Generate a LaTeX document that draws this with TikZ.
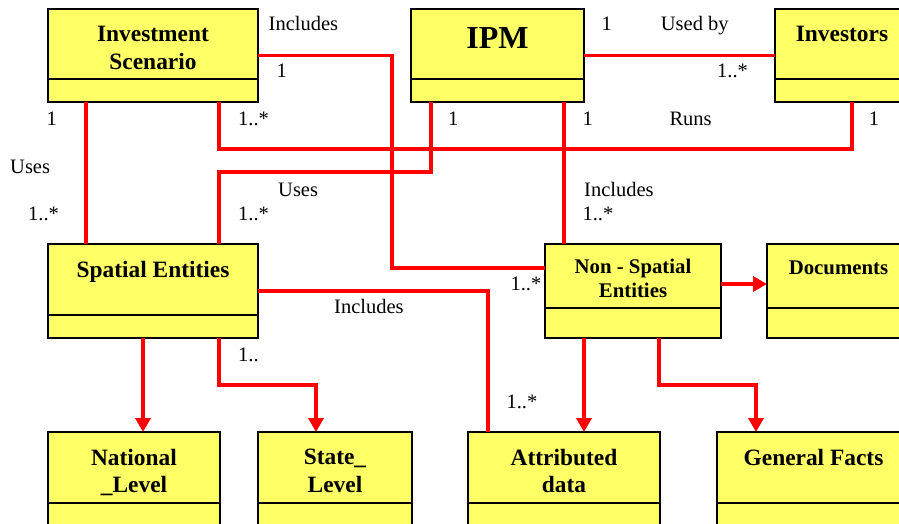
\documentclass[tikz,border=0pt]{standalone}
\usepackage{fontspec}
\setmainfont{Liberation Serif}
\usetikzlibrary{positioning,arrows.meta}
\definecolor{classyellow}{RGB}{255,255,102}

\begin{document}
\begin{tikzpicture}
[x=1pt, y=-1pt,
    classbox/.style={rectangle, draw=black, line width=1.8pt, fill=classyellow,
    anchor=north west, inner sep=0pt, outer sep=0pt},
    classname/.style={font=\bfseries\fontsize{23.4}{27.5}\selectfont,
    align=center, inner sep=0pt},
    classname small/.style={classname, font=\bfseries\fontsize{20.8}{23.4}\selectfont},
    divider/.style={draw=black, line width=1.8pt},
    lbl/.style={font=\fontsize{20.5}{24}\selectfont, anchor=base west, inner sep=0pt},
    assoc/.style={draw=red, line width=3.8pt},
    arr/.style={assoc, -{Triangle[length=14pt,width=15pt]}},
    ]
\useasboundingbox (0,0) rectangle (899,524);

% top row
\node[classbox, minimum width=210pt, minimum height=93pt] (scen) at (48,9) {};
\node[classbox, minimum width=173pt, minimum height=93pt] (ipm) at (411,9) {};
\node[classbox, minimum width=134pt, minimum height=93pt] (inv) at (775,9) {};
% middle row
\node[classbox, minimum width=210pt, minimum height=94pt] (se) at (48,244) {};
\node[classbox, minimum width=176pt, minimum height=94pt] (nse) at (545,244) {};
\node[classbox, minimum width=143pt, minimum height=94pt] (doc) at (767,244) {};
% bottom row
\node[classbox, minimum width=172pt, minimum height=94pt] (nl) at (48,432) {};
\node[classbox, minimum width=154pt, minimum height=94pt] (sl) at (258,432) {};
\node[classbox, minimum width=192pt, minimum height=94pt] (ad) at (468,432) {};
\node[classbox, minimum width=193pt, minimum height=94pt] (gf) at (717,432) {};

% compartments
\draw[divider] (scen.west |- 0,79) -- (scen.east |- 0,79);
\draw[divider] (ipm.west |- 0,79) -- (ipm.east |- 0,79);
\draw[divider] (inv.west |- 0,79) -- (inv.east |- 0,79);
\draw[divider] (se.west |- 0,315) -- (se.east |- 0,315);
\draw[divider] (nse.west |- 0,308) -- (nse.east |- 0,308);
\draw[divider] (doc.west |- 0,308) -- (doc.east |- 0,308);
\draw[divider] (nl.west |- 0,503) -- (nl.east |- 0,503);
\draw[divider] (sl.west |- 0,503) -- (sl.east |- 0,503);
\draw[divider] (ad.west |- 0,503) -- (ad.east |- 0,503);
\draw[divider] (gf.west |- 0,503) -- (gf.east |- 0,503);

% class names
\node[classname, below=17pt of scen.north] (scen-t) {Investment\\Scenario};
\node[classname, font=\bfseries\fontsize{32}{36}\selectfont, below=18.6pt of ipm.north] (ipm-t) {IPM};
\node[classname, below=17pt of inv.north] (inv-t) {Investors};
\node[classname, below=16.7pt of se.north] (se-t) {Spatial Entities};
\node[classname small, below=15pt of nse.north] (nse-t) {Non - Spatial\\Entities};
\node[classname small, below=17pt of doc.north] (doc-t) {Documents};
\node[classname, below=17pt of nl.north] (nl-t) {National\\\_Level};
\node[classname, below=17pt of sl.north] (sl-t) {State\_\\Level};
\node[classname, below=17pt of ad.north] (ad-t) {Attributed\\data};
\node[classname, below=17pt of gf.north] (gf-t) {General Facts};

% associations
\draw[assoc] (scen.east) -| (392,268) -- (nse.west |- 392,268);
\draw[assoc] (scen.south -| 86,0) -- (se.north -| 86,0);
\draw[assoc] (scen.south -| 219,0) |- (852,149) -- (inv.south -| 852,0);
\draw[assoc] (ipm.south -| 431,0) |- (219,172) -- (se.north -| 219,0);
\draw[assoc] (ipm.south -| 564,0) -- (nse.north -| 564,0);
\draw[assoc] (ipm.east) -- (inv.west);
\draw[assoc] (se.east) -| (ad.north -| 488,0);
\draw[arr] (se.south -| 143,0) -- (nl.north -| 143,0);
\draw[arr] (se.south -| 219,0) |- (316,385) -- (sl.north -| 316,0);
\draw[arr] (nse.east |- 0,284) -- (doc.west |- 0,284);
\draw[arr] (nse.south -| 584,0) -- (ad.north -| 584,0);
\draw[arr] (nse.south -| 659,0) |- (756,385) -- (gf.north -| 756,0);

% multiplicities and roles
\node[lbl] (inc1) at (268.5,31) {Includes};
\node[lbl] (m1) at (276.5,77.3) {1};
\node[lbl] (m2) at (46.3,125.3) {1};
\node[lbl] (m3) at (238,125.3) {1..*};
\node[lbl] (uses1) at (10,173.3) {Uses};
\node[lbl] (m4) at (28,220) {1..*};
\node[lbl] (uses2) at (278,196.5) {Uses};
\node[lbl] (m5) at (238,220) {1..*};
\node[lbl] (m6) at (601.3,31) {1};
\node[lbl] (used) at (660.7,31) {Used by};
\node[lbl] (m7) at (717,77.7) {1..*};
\node[lbl] (m8) at (448,125.3) {1};
\node[lbl] (m9) at (582.3,125.3) {1};
\node[lbl] (runs) at (669.3,125.3) {Runs};
\node[lbl] (m10) at (868.7,125.3) {1};
\node[lbl] (inc2) at (584,196.5) {Includes};
\node[lbl] (m11) at (582.3,220) {1..*};
\node[lbl] (inc3) at (334,313.3) {Includes};
\node[lbl] (m12) at (238,361.7) {1..};
\node[lbl] (m13) at (510.3,290) {1..*};
\node[lbl] (m14) at (506.3,408.3) {1..*};

\end{tikzpicture}
\end{document}
